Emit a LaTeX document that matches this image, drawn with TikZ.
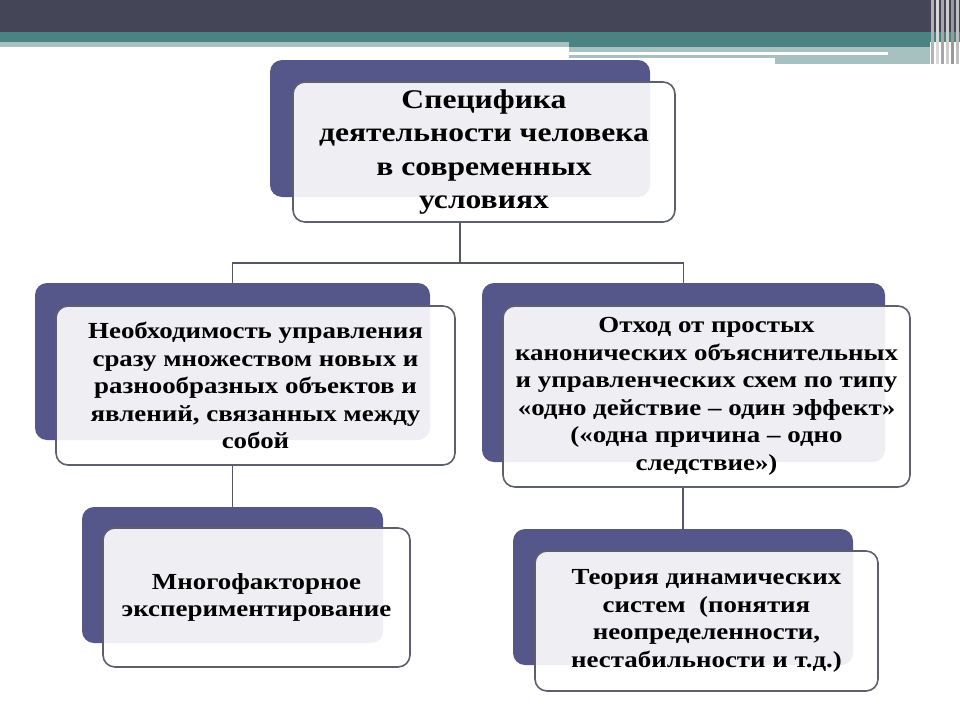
\documentclass[tikz,border=0pt]{standalone}
\usepackage{fontspec}
\setmainfont{Liberation Serif}[FakeStretch=1.17]
\usepackage{tikz}

\definecolor{headdark}{HTML}{444657}
\definecolor{headteal}{HTML}{4B8383}
\definecolor{headlight}{HTML}{A7C1C1}
\definecolor{boxblue}{HTML}{55578A}
\definecolor{framegray}{HTML}{5E5F6E}
\definecolor{linegray}{HTML}{555666}

\begin{document}
\begin{tikzpicture}[
        x=1pt,y=-1pt,
        backbox/.style={rectangle,rounded corners=12pt,fill=boxblue,inner sep=0pt},
        frontbox/.style={rectangle,rounded corners=12pt,draw=framegray,line width=1.6pt,
            fill=white,fill opacity=0.9,text opacity=1,inner sep=0pt,align=center,
            font=\bfseries\fontsize{23}{27.5}\selectfont},
        link/.style={draw=linegray,line width=1.6pt}
    ]
        \useasboundingbox (0,0) rectangle (960,720);

        % header bands
        \fill[headdark] (0,0) rectangle (960,32);
        \fill[headteal] (0,32) rectangle (960,42);
        \fill[headlight] (0,42) rectangle (569,47);
        \fill[headteal] (569,42) rectangle (930,47);
        \fill[headlight] (569,47) rectangle (930,52);
        \fill[headlight] (888,52) rectangle (930,55);
        \fill[headlight] (569,55) rectangle (775,58);
        \fill[headlight] (775,55) rectangle (930,64);
        \foreach \sx/\sc in {931/gray!60,936/gray!30,941/gray!70,946/gray!40,951/gray!80,956/gray!50}
            \fill[\sc] (\sx,0) rectangle ++(3,64);

        % back plates
        \node[backbox,minimum width=380pt,minimum height=137pt] (topback) at (460,128.5) {};
        \node[backbox,minimum width=395pt,minimum height=157pt] (leftback) at (232.5,361.5) {};
        \node[backbox,minimum width=403pt,minimum height=179pt] (rightback) at (683.5,372.5) {};
        \node[backbox,minimum width=301pt,minimum height=136pt] (lowleftback) at (232.5,575) {};
        \node[backbox,minimum width=340pt,minimum height=136pt] (lowrightback) at (683,597) {};

        % text boxes
        \node[frontbox,minimum width=382pt,minimum height=140pt,
            font=\bfseries\fontsize{27}{33.5}\selectfont] (top) at (484,152)
            {Специфика\\деятельности человека\\в современных\\условиях};
        \node[frontbox,minimum width=399pt,minimum height=159pt] (left) at (255.5,385.5)
            {Необходимость управления\\сразу множеством новых и\\разнообразных объектов и\\явлений, связанных между\\собой};
        \node[frontbox,minimum width=407pt,minimum height=181pt] (right) at (706.5,396.5)
            {Отход от простых\\канонических объяснительных\\и управленческих схем по типу\\«одно действие – один эффект»\\(«одна причина – одно\\следствие»)};
        \node[frontbox,minimum width=307pt,minimum height=139pt] (lowleft) at (256.5,597.5)
            {Многофакторное\\экспериментирование};
        \node[frontbox,minimum width=343pt,minimum height=140pt] (lowright) at (706.5,621)
            {Теория динамических\\систем \ (понятия\\неопределенности,\\нестабильности и т.д.)};

        % connectors
        \coordinate (fork) at (460,263);
        \draw[link] (topback.south |- top.south) -- (fork);
        \draw[link] (fork) -| (leftback.north);
        \draw[link] (fork) -| (rightback.north);
        \draw[link] (lowleftback.north |- left.south) -- (lowleftback.north);
        \draw[link] (lowrightback.north |- right.south) -- (lowrightback.north);
    \end{tikzpicture}
\end{document}
